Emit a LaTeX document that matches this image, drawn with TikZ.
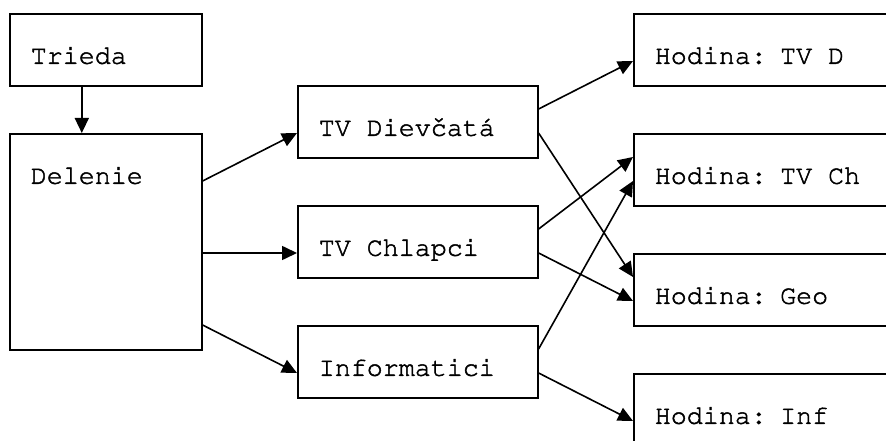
\documentclass[tikz,border=0pt]{standalone}
\usepackage[T1]{fontenc}
\usepackage{courier}
\usetikzlibrary{arrows.meta}
\newcommand{\thicktxt}[1]{\spaceskip=16pt\relax\special{pdf:literal direct 2 Tr 0.45 w}#1\special{pdf:literal direct 0 Tr}}
\tikzset{
  box/.style={draw=black, line width=1.6pt, rectangle, anchor=north west,
    inner xsep=21pt, inner ysep=0pt, text width=#1, align=left,
    font=\ttfamily\fontsize{26.67pt}{30pt}\selectfont, text height=50pt},
  arr/.style={line width=1.6pt, -{Triangle[length=15pt,width=14pt]}}
}
\begin{document}
\begin{tikzpicture}[x=1pt, y=-1pt]
\useasboundingbox (0,0) rectangle (886,441);
\fill[white] (0,0) rectangle (886,441);
\clip (0,0) rectangle (886,441);
% left column
\node[box=150pt, text depth=22pt] (trieda) at (9,13) {\thicktxt{Trieda}};
\node[box=150pt, text depth=166pt] (del) at (9,133) {\thicktxt{Delenie}};
% middle column
\node[box=198pt, text depth=22pt] (tvd) at (297,85) {\thicktxt{TV Diev\v{c}at\'a}};
\node[box=198pt, text depth=22pt] (tvch) at (297,205) {\thicktxt{TV Chlapci}};
\node[box=198pt, text depth=22pt] (inf) at (297,325) {\thicktxt{Informatici}};
% right column
\node[box=228pt, text depth=22pt] (hd) at (633,13) {\thicktxt{Hodina: TV D}};
\node[box=228pt, text depth=22pt] (hch) at (633,133) {\thicktxt{Hodina: TV Ch}};
\node[box=228pt, text depth=22pt] (hgeo) at (633,253) {\thicktxt{Hodina: Geo}};
\node[box=228pt, text depth=22pt] (hinf) at (633,373) {\thicktxt{Hodina: Inf}};
% connectors
\draw[arr] ([xshift=-24pt]trieda.south) -- ([xshift=-24pt]del.north);
\draw[arr] ([yshift=-48pt]del.north east) -- ([yshift=-48pt]tvd.north west);
\draw[arr] ([yshift=-120pt]del.north east) -- ([yshift=-48pt]tvch.north west);
\draw[arr] ([yshift=-192pt]del.north east) -- ([yshift=-48pt]inf.north west);
\draw[arr] ([yshift=-24pt]tvd.north east) -- ([yshift=-48pt]hd.north west);
\draw[arr] ([yshift=-48pt]tvd.north east) -- ([yshift=-24pt]hgeo.north west);
\draw[arr] ([yshift=-24pt]tvch.north east) -- ([yshift=-24pt]hch.north west);
\draw[arr] ([yshift=-48pt]tvch.north east) -- ([yshift=-48pt]hgeo.north west);
\draw[arr] ([yshift=-24pt]inf.north east) -- ([yshift=-48pt]hch.north west);
\draw[arr] ([yshift=-48pt]inf.north east) -- ([yshift=-48pt]hinf.north west);
\end{tikzpicture}
\end{document}
